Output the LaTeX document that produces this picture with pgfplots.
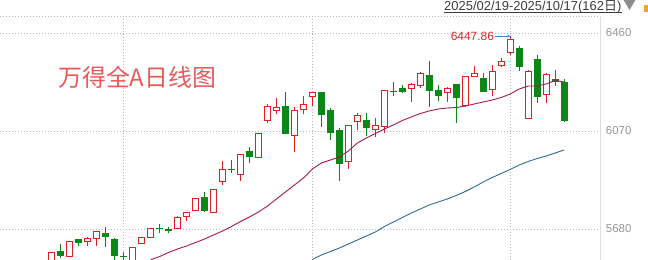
\documentclass[border=0pt]{standalone}
\usepackage{pgfplots}
\pgfplotsset{compat=1.18}
\usepackage{pgfplotstable}
\usepackage{fontspec}
\setmainfont{Liberation Sans}
\newfontfamily\cjk{Noto Sans CJK SC}
\usetikzlibrary{arrows.meta}

\definecolor{cRed}{RGB}{224,32,32}
\definecolor{cGreen}{RGB}{10,135,20}
\definecolor{cMAa}{RGB}{165,25,85}
\definecolor{cMAb}{RGB}{45,110,150}
\definecolor{cGrid}{RGB}{185,185,185}
\definecolor{cAxis}{RGB}{220,220,220}
\definecolor{cTick}{RGB}{150,150,150}
\definecolor{cTitle}{RGB}{235,90,90}
\definecolor{cDate}{RGB}{60,60,60}
\definecolor{cAnn}{RGB}{215,40,40}
\definecolor{cArrow}{RGB}{60,140,200}
\definecolor{cTri}{RGB}{140,140,140}
\definecolor{cOrange}{RGB}{240,165,50}

% red (up) candles
\pgfplotstableread{
i o h l c
1 5540.7 5585.6 5516.8 5585.6
3 5572.5 5631.0 5568.5 5631.0
5 5631.0 5646.9 5612.3 5642.9
6 5644.1 5673.2 5613.5 5670.8
10 5536.7 5607.1 5532.7 5607.1
11 5623.0 5649.3 5619.0 5646.9
12 5648.1 5681.1 5644.1 5681.1
15 5682.7 5730.5 5679.9 5726.5
16 5728.9 5748.8 5713.0 5746.4
17 5754.4 5804.5 5752.8 5802.1
19 5746.4 5839.1 5746.4 5839.1
20 5868.2 5949.4 5856.3 5917.5
22 5894.9 5977.3 5872.2 5974.5
24 5965.3 6060.8 5965.3 6060.8
25 6112.6 6176.2 6100.6 6168.3
26 6152.3 6200.1 6136.4 6164.3
28 6054.0 6166.7 5987.6 6150.8
29 6156.3 6208.1 6136.4 6176.2
30 6208.1 6224.0 6169.5 6224.0
34 5949.4 6093.8 5919.9 6092.6
35 6105.8 6141.6 6073.9 6132.5
37 6076.7 6122.9 6047.3 6092.6
38 6087.1 6229.2 6060.8 6229.2
41 6239.9 6262.2 6186.6 6255.8
42 6251.8 6306.0 6239.9 6296.8
45 6224.0 6243.9 6186.6 6239.9
47 6169.5 6287.7 6164.3 6287.7
48 6286.1 6328.7 6283.7 6299.6
50 6235.9 6332.6 6210.5 6308.7
51 6331.4 6361.7 6323.5 6347.4
52 6381.6 6447.86 6372.4 6432.1
54 6120.5 6312.7 6120.5 6305.9
56 6215.9 6299.6 6180.2 6295.6
}\redtab

% green (down) candles
\pgfplotstableread{
i o h l c
2 5592.4 5620.3 5564.6 5575.3
4 5636.2 5641.4 5612.3 5627.0
7 5662.8 5686.7 5609.5 5650.9
8 5638.9 5645.3 5548.6 5575.3
9 5571.0 5588.5 5548.6 5569.0
13 5682.0 5698.7 5662.8 5680.0
14 5677.0 5689.1 5662.8 5675.0
18 5807.1 5826.0 5748.8 5755.5
21 5917.0 5954.6 5901.7 5915.0
23 5986.4 6007.5 5941.4 5967.7
27 6168.3 6224.0 6060.8 6060.8
31 6224.0 6224.0 6087.1 6136.4
32 6149.6 6160.3 6034.2 6063.2
33 6070.0 6083.1 5872.2 5939.9
36 6109.8 6140.4 6050.0 6084.7
39 6227.5 6265.0 6210.5 6225.5
40 6237.1 6253.1 6222.4 6226.4
43 6288.9 6348.6 6167.0 6230.4
44 6229.2 6253.1 6190.6 6209.3
46 6253.1 6253.1 6103.0 6202.5
49 6276.9 6302.0 6226.4 6226.4
53 6396.3 6408.3 6308.7 6325.9
55 6352.5 6372.4 6182.6 6206.5
57 6275.7 6312.7 6250.2 6267.8
58 6262.2 6275.7 6107.0 6111.0
}\greentab

% short moving average
\pgfplotstableread{
i v
12 5557.3
13 5570.4
14 5586.5
15 5600.4
16 5612.3
17 5626.2
18 5640.2
19 5656.1
20 5672.0
21 5689.9
22 5709.8
23 5727.7
24 5747.6
25 5771.5
26 5799.4
27 5827.2
28 5855.1
29 5882.9
30 5918.7
31 5942.6
32 5954.6
33 5966.5
34 5990.4
35 6022.2
36 6042.1
37 6060.0
38 6077.9
39 6093.8
40 6111.8
41 6125.7
42 6139.6
43 6149.6
44 6157.5
45 6161.5
46 6163.5
47 6169.5
48 6177.4
49 6185.4
50 6193.3
51 6203.3
52 6217.2
53 6237.1
54 6249.1
55 6249.1
56 6257.0
57 6270.9
58 6265.0
}\maA

% long moving average
\pgfplotstableread{
i v
30 5558.6
31 5576.5
32 5590.4
33 5604.4
34 5620.3
35 5636.2
36 5652.1
37 5668.0
38 5689.9
39 5707.8
40 5725.7
41 5743.6
42 5759.6
43 5775.5
44 5787.4
45 5799.4
46 5813.3
47 5829.2
48 5847.1
49 5867.0
50 5884.9
51 5900.8
52 5916.8
53 5934.7
54 5948.6
55 5960.5
56 5970.5
57 5982.4
58 5994.4
}\maB

\pgfplotsset{
  base/.style={
    at={(0,0)}, anchor=south west,
    scale only axis, width=600bp, height=244bp,
    xmin=-4.751, xmax=61.99, ymin=5556.6, ymax=6527.6,
    enlarge x limits=false, enlarge y limits=false,
  },
  body/.style={base, hide axis, ybar stacked, bar width=6bp},
}

\begin{document}
\begin{tikzpicture}
\useasboundingbox (0,0) rectangle (648bp,260bp);

% frame, grid, ticks and wicks
\begin{axis}[base,
  axis x line*=top, axis y line*=right,
  x axis line style={draw=cGrid, line width=0.8bp, dash pattern=on 1bp off 2bp},
  y axis line style={draw=cAxis, line width=1bp},
  xtick={9,30,52}, xticklabels={},
  ytick={5680,6070,6460}, yticklabels={5680,6070,6460},
  major tick length=0pt,
  xmajorgrids, ymajorgrids,
  grid style={draw=cGrid, line width=0.8bp, dash pattern=on 1bp off 2bp},
  yticklabel style={font=\fontsize{11.5}{12}\selectfont, text=cTick, anchor=west, inner sep=0pt, xshift=5.7bp},
]
\addplot[draw=none, error bars/.cd, y dir=plus, y explicit, error mark=none,
  error bar style={draw=cRed, line width=1bp, solid}]
  table[x=i, y=l, y error expr=\thisrow{h}-\thisrow{l}] {\redtab};
\addplot[draw=none, error bars/.cd, y dir=plus, y explicit, error mark=none,
  error bar style={draw=cGreen, line width=1bp, solid}]
  table[x=i, y=l, y error expr=\thisrow{h}-\thisrow{l}] {\greentab};
\end{axis}

% red bodies (hollow)
\begin{axis}[body]
\addplot[draw=none, fill=none] table[x=i, y=o] {\redtab};
\addplot[draw=cRed, fill=white, line width=1bp] table[x=i, y expr=\thisrow{c}-\thisrow{o}] {\redtab};
\end{axis}

% green bodies (filled)
\begin{axis}[body]
\addplot[draw=none, fill=none] table[x=i, y=c] {\greentab};
\addplot[draw=cGreen, fill=cGreen, line width=1bp] table[x=i, y expr=\thisrow{o}-\thisrow{c}] {\greentab};
\end{axis}

% moving averages and annotation
\begin{axis}[base, hide axis]
\addplot[draw=cMAa, line width=0.9bp] table[x=i, y=v] {\maA};
\addplot[draw=cMAb, line width=0.9bp] table[x=i, y=v] {\maB};
\node[anchor=east, text=cAnn, font=\fontsize{12}{12}\selectfont, inner sep=0pt]
  at ([xshift=-16bp]axis cs:52,6447.86) {6447.86};
\draw[cArrow, line width=0.7bp, -{Stealth[length=3bp,width=3bp]}]
  ([xshift=-15bp]axis cs:52,6447.86) -- (axis cs:52,6447.86);
\end{axis}

% title and header
\node[anchor=west, inner sep=0pt, text=cTitle, font=\cjk\fontsize{24}{24}\selectfont] at (58bp,183bp) {万得全A日线图};
\node[anchor=base west, inner sep=0pt, text=cDate, font=\fontsize{13}{13}\selectfont] at (444bp,249.3bp) {2025/02/19-2025/10/17(162{\cjk 日})};
\draw[cDate, line width=0.8bp] (444bp,247.6bp) -- (621.7bp,247.6bp);
\fill[cTri] (623bp,261bp) -- (636bp,261bp) -- (629.5bp,250bp) -- cycle;
\fill[cOrange] (644bp,248bp) rectangle (649bp,255bp);
\end{tikzpicture}
\end{document}
